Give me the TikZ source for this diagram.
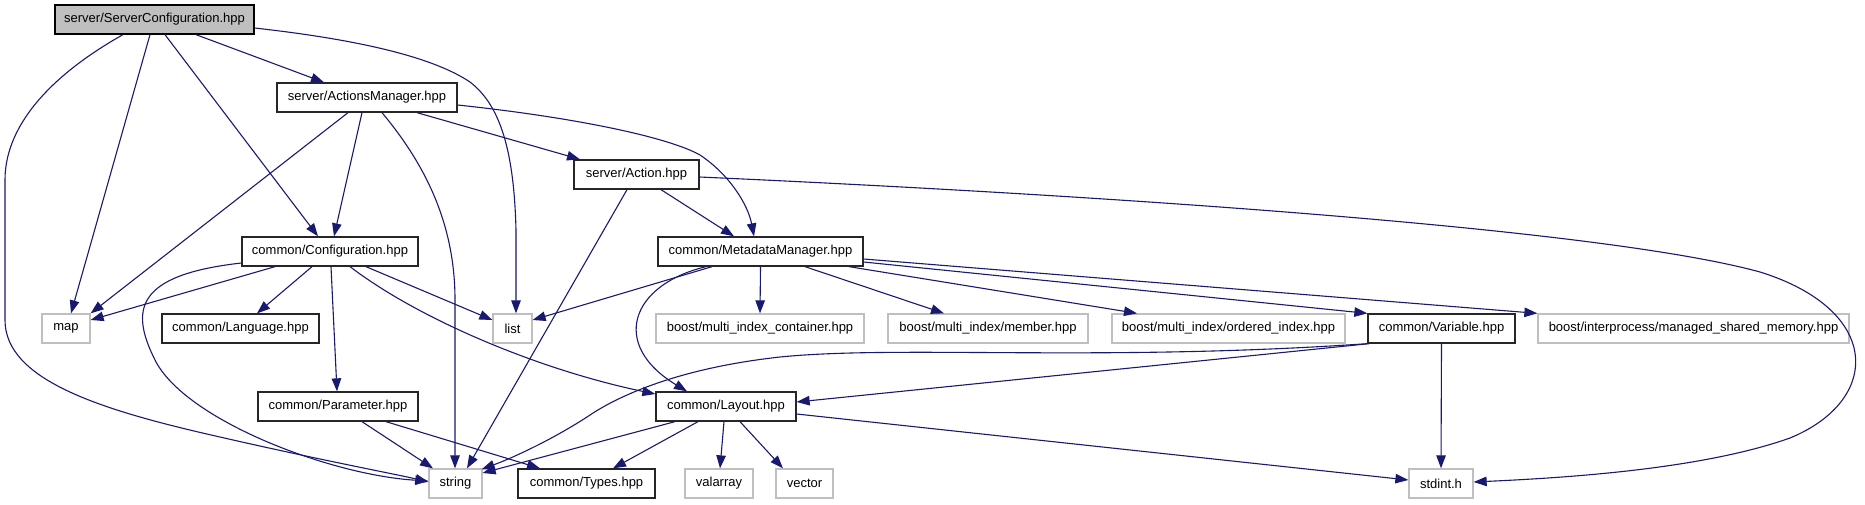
\documentclass[tikz,border=0pt]{standalone}
\usepackage{fontspec}
\setmainfont{Liberation Sans}
\usetikzlibrary{arrows.meta}
\definecolor{edgeblue}{RGB}{25,25,112}
\definecolor{extgray}{RGB}{191,191,191}
\tikzset{
  basebox/.style={rectangle, inner sep=0pt, minimum height=29pt, fill=white,
    font=\fontsize{13}{15}\selectfont, text=black},
  docbox/.style={basebox, draw=black!85, line width=1.3pt},
  mainbox/.style={basebox, draw=black, line width=1.3pt, fill=extgray},
  extbox/.style={basebox, draw=extgray, line width=1.3pt},
  edge/.style={draw=edgeblue, line width=1.1pt,
    -{Triangle[length=13pt,width=9.5pt]}, edgeblue},
}
\begin{document}
\begin{tikzpicture}[x=1pt,y=-1pt]
\useasboundingbox (0,0) rectangle (1865,504);
% nodes
\node[mainbox, minimum width=199pt] (sc) at (154.5,19.5) {server/ServerConfiguration.hpp};
\node[docbox, minimum width=180pt] (am) at (367,97.5) {server/ActionsManager.hpp};
\node[docbox, minimum width=125pt] (act) at (636.5,174.5) {server/Action.hpp};
\node[docbox, minimum width=176pt] (cfg) at (330,251.5) {common/Configuration.hpp};
\node[docbox, minimum width=205pt] (meta) at (760.5,251.5) {common/MetadataManager.hpp};
\node[extbox, minimum width=48pt] (map) at (66,328.5) {map};
\node[docbox, minimum width=157pt] (lang) at (240.5,328.5) {common/Language.hpp};
\node[extbox, minimum width=39pt] (list) at (512.5,328.5) {list};
\node[extbox, minimum width=208pt] (mic) at (760,328.5) {boost/multi\_index\_container.hpp};
\node[extbox, minimum width=200pt] (mem) at (988,328.5) {boost/multi\_index/member.hpp};
\node[extbox, minimum width=233pt] (ord) at (1228.5,328.5) {boost/multi\_index/ordered\_index.hpp};
\node[docbox, minimum width=147pt] (var) at (1441.5,328.5) {common/Variable.hpp};
\node[extbox, minimum width=311pt] (msm) at (1693.5,328.5) {boost/interprocess/managed\_shared\_memory.hpp};
\node[docbox, minimum width=160pt] (par) at (338,406.5) {common/Parameter.hpp};
\node[docbox, minimum width=140pt] (lay) at (726,406.5) {common/Layout.hpp};
\node[extbox, minimum width=53pt] (str) at (455.5,483.5) {string};
\node[docbox, minimum width=137pt] (typ) at (586.5,483.5) {common/Types.hpp};
\node[extbox, minimum width=68pt] (val) at (719,483.5) {valarray};
\node[extbox, minimum width=57pt] (vec) at (804.5,483.5) {vector};
\node[extbox, minimum width=64pt] (std) at (1441,483.5) {stdint.h};
% ServerConfiguration
\draw[edge] ([xshift=41.5pt]sc.south) -- ([xshift=-43pt]am.north);
\draw[edge] ([xshift=10.5pt]sc.south) -- ([xshift=-12pt]cfg.north);
\draw[edge] ([xshift=-4.5pt]sc.south) -- ([xshift=5pt]map.north);
\draw[edge] ([xshift=-31.5pt]sc.south) .. controls (60,70) and (5,120) .. (5,180) -- (5,320) .. controls (5,380) and (100,410) .. (220,437) .. controls (320,460) and (400,475) .. ([yshift=1.5pt]str.west);
\draw[edge] ([yshift=-8.5pt]sc.east) .. controls (380,42) and (440,62) .. (470,82) .. controls (500,105) and (514,150) .. (516,230) -- ([xshift=3.5pt]list.north);
% ActionsManager
\draw[edge] ([xshift=-19pt]am.south) -- (map.north east);
\draw[edge] ([xshift=-5pt]am.south) -- ([xshift=4pt]cfg.north);
\draw[edge] ([xshift=15pt]am.south) .. controls (430,170) and (455,230) .. (455,300) -- ([xshift=-0.5pt]str.north);
\draw[edge] ([xshift=50pt]am.south) -- ([xshift=-56.5pt]act.north);
\draw[edge] ([yshift=-7.5pt]am.east) .. controls (580,118) and (670,138) .. (700,155) .. controls (730,175) and (748,205) .. ([xshift=-6.5pt]meta.north);
% Action
\draw[edge] ([xshift=24.5pt]act.south) -- ([xshift=-26.5pt]meta.north);
\draw[edge] ([xshift=-9.5pt]act.south) -- ([xshift=11.5pt]str.north);
\draw[edge] ([yshift=-2.5pt]act.east) .. controls (1100,195) and (1600,228) .. (1760,272) .. controls (1882,310) and (1882,400) .. (1790,438) .. controls (1700,470) and (1560,478) .. ([yshift=1.5pt]std.east);
% MetadataManager
\draw[edge] ([xshift=-48.5pt]meta.south) -- ([yshift=8.5pt]list.east);
\draw[edge] ([xshift=-54.5pt]meta.south) .. controls (630,285) and (610,345) .. ([xshift=-39pt]lay.north);
\draw[edge] (meta.south) -- (mic.north);
\draw[edge] ([xshift=44.5pt]meta.south) -- ([xshift=-44pt]mem.north);
\draw[edge] ([xshift=88.5pt]meta.south) -- ([xshift=-91.5pt]ord.north);
\draw[edge] ([yshift=-10.5pt]meta.east) -- (var.north west);
\draw[edge] ([yshift=-7.5pt]meta.east) -- (msm.north west);
% Configuration
\draw[edge] ([xshift=-55pt]cfg.south) -- ([yshift=8.5pt]map.east);
\draw[edge] ([yshift=-11.5pt]cfg.west) .. controls (135,275) and (130,310) .. (155,360) .. controls (185,420) and (330,475) .. ([yshift=2.5pt]str.west);
\draw[edge] ([xshift=-18pt]cfg.south) -- ([xshift=16.5pt]lang.north);
\draw[edge] ([xshift=1pt]cfg.south) -- ([xshift=-1pt]par.north);
\draw[edge] ([xshift=36pt]cfg.south) -- ([yshift=8.5pt]list.west);
\draw[edge] ([xshift=20pt]cfg.south) .. controls (420,320) and (540,370) .. ([yshift=12.5pt]lay.west);
% Parameter
\draw[edge] ([xshift=24pt]par.south) -- ([xshift=-22.5pt]str.north);
\draw[edge] ([xshift=48pt]par.south) -- ([xshift=-46.5pt]typ.north);
% Layout
\draw[edge] ([xshift=-51pt]lay.south) -- ([yshift=10.5pt]str.east);
\draw[edge] ([xshift=-28pt]lay.south) -- ([xshift=26.5pt]typ.north);
\draw[edge] ([xshift=-2pt]lay.south) -- ([xshift=1pt]val.north);
\draw[edge] ([xshift=14pt]lay.south) -- ([xshift=-21.5pt]vec.north);
\draw[edge] ([yshift=-7.5pt]lay.east) -- ([yshift=3.5pt]std.west);
% Variable
\draw[edge] ([xshift=2pt]var.south west) -- ([yshift=4.5pt]lay.east);
\draw[edge] (var.south west) .. controls (1100,362) and (900,345) .. (780,357) .. controls (680,368) and (620,395) .. (590,415) .. controls (560,435) and (520,455) .. ([xshift=-1pt,yshift=-1pt]str.north east);
\draw[edge] (var.south) -- (std.north);
\end{tikzpicture}
\end{document}
